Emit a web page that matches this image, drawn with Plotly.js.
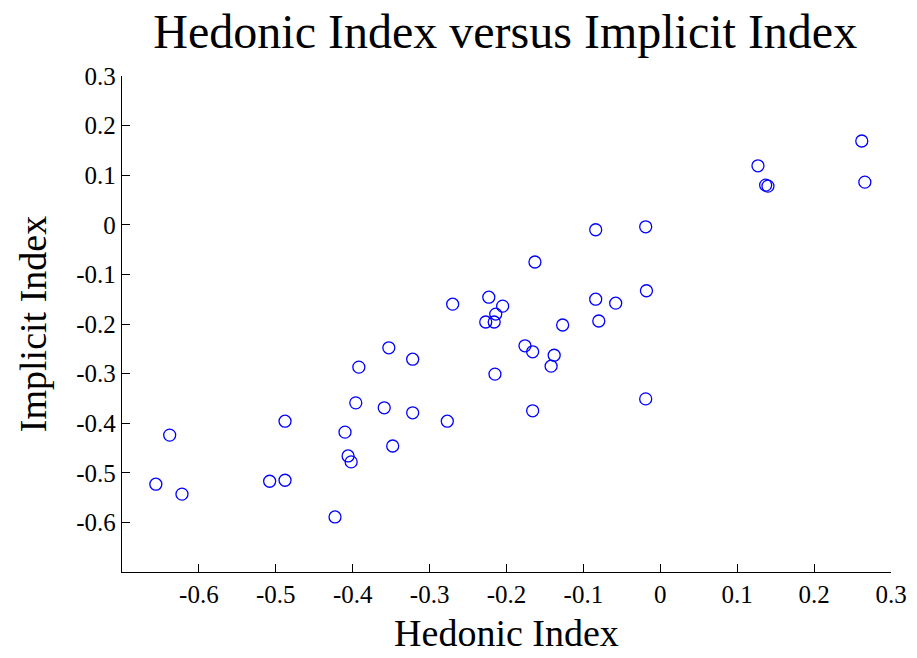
<!DOCTYPE html>
<html>
<head>
<meta charset="utf-8">
<script src="https://cdn.plot.ly/plotly-3.0.1.min.js"></script>
<style>html,body{margin:0;padding:0;background:#fff;}#chart{width:917px;height:658px;}</style>
</head>
<body>
<div id="chart"></div>
<script>
var hedonic = [-0.656,-0.638,-0.622,-0.508,-0.488,-0.488,-0.423,-0.410,-0.406,-0.402,-0.396,-0.392,-0.353,-0.359,-0.348,-0.322,-0.322,-0.277,-0.270,-0.223,-0.227,-0.216,-0.214,-0.205,-0.215,-0.176,-0.166,-0.163,-0.166,-0.142,-0.138,-0.127,-0.084,-0.084,-0.080,-0.058,-0.019,-0.018,-0.019,0.127,0.137,0.140,0.262,0.266];
var implicit = [-0.523,-0.424,-0.543,-0.517,-0.515,-0.396,-0.589,-0.418,-0.466,-0.478,-0.359,-0.287,-0.248,-0.369,-0.446,-0.271,-0.379,-0.396,-0.160,-0.146,-0.196,-0.196,-0.180,-0.164,-0.301,-0.244,-0.256,-0.075,-0.375,-0.285,-0.263,-0.202,-0.010,-0.150,-0.194,-0.158,-0.004,-0.133,-0.351,0.119,0.080,0.078,0.169,0.086];
var tickVals = [-0.6,-0.5,-0.4,-0.3,-0.2,-0.1,0,0.1,0.2,0.3];
var tickText = ['-0.6','-0.5','-0.4','-0.3','-0.2','-0.1','0','0.1','0.2','0.3'];
var titleText = 'Hedonic Index versus Implicit Index';
var xTitle = 'Hedonic Index';
var yTitle = 'Implicit Index';

var font = 'Liberation Serif, Times New Roman, serif';
var trace = {
  x: hedonic, y: implicit, type: 'scatter', mode: 'markers',
  marker: {symbol: 'circle-open', size: 12, color: '#0000ff', line: {width: 1.3, color: '#0000ff'}},
  hoverinfo: 'none'
};
var axisCommon = {
  range: [-0.7, 0.3], tickvals: tickVals, ticktext: tickText,
  ticks: 'inside', ticklen: 8, tickwidth: 1, tickcolor: '#000',
  showline: true, linecolor: '#000', linewidth: 1.2, mirror: false,
  showgrid: false, zeroline: false,
  tickfont: {family: font, size: 25, color: '#000'}
};
var layout = {
  width: 917, height: 658,
  margin: {l: 122, r: 26, t: 76, b: 86},
  paper_bgcolor: '#fff', plot_bgcolor: '#fff',
  showlegend: false,
  title: {text: titleText, x: 0.551, xanchor: 'center', y: 0.953, yanchor: 'middle',
          font: {family: font, size: 48, color: '#000'}},
  xaxis: Object.assign({}, axisCommon, {
    title: {text: xTitle, font: {family: font, size: 38, color: '#000'}, standoff: 12}
  }),
  yaxis: Object.assign({}, axisCommon, {
    title: {text: yTitle, font: {family: font, size: 38, color: '#000'}, standoff: 18}
  })
};
Plotly.newPlot('chart', [trace], layout, {displayModeBar: false, staticPlot: true});
</script>
</body>
</html>
